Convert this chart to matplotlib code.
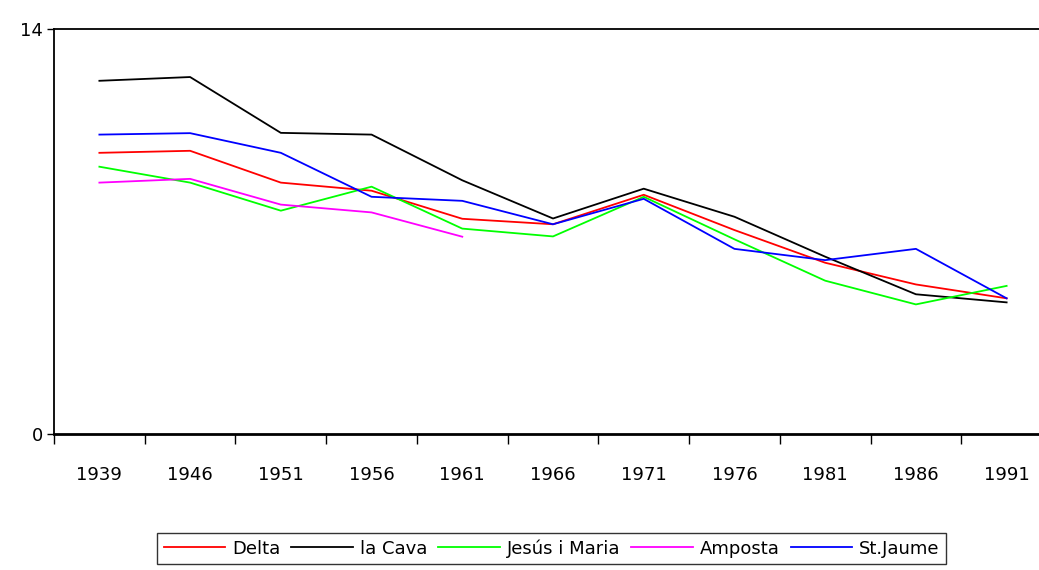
import numpy as np
import matplotlib.pyplot as plt

plt.rcParams['font.family'] = ['DejaVu Sans']

years = ['1939', '1946', '1951', '1956', '1961', '1966', '1971', '1976', '1981', '1986', '1991']

delta = [9.72, 9.79, 8.69, 8.41, 7.44, 7.25, 8.27, 7.05, 5.92, 5.17, 4.69]
la_cava = [12.21, 12.34, 10.41, 10.35, 8.77, 7.45, 8.48, 7.51, 6.13, 4.83, 4.55]
jesus_maria = [9.24, 8.69, 7.72, 8.55, 7.10, 6.83, 8.20, 6.73, 5.30, 4.48, 5.12]
amposta = [8.69, 8.82, 7.93, 7.66, 6.82]
st_jaume = [10.35, 10.40, 9.72, 8.20, 8.06, 7.25, 8.13, 6.40, 6.01, 6.40, 4.69]

fig = plt.figure(figsize=(10.39, 5.70), dpi=100)
ax = fig.add_axes([0.052, 0.2386, 0.9605, 0.7105])

x = np.arange(len(years))
ax.plot(x, delta, color='#ff0000', lw=1.3, label='Delta')
ax.plot(x, la_cava, color='black', lw=1.3, label='la Cava')
ax.plot(x, jesus_maria, color='#00ff00', lw=1.3, label='Jesús i Maria')
ax.plot(x[:len(amposta)], amposta, color='#ff00ff', lw=1.3, label='Amposta')
ax.plot(x, st_jaume, color='#0000ff', lw=1.3, label='St.Jaume')

ax.set_xlim(-0.5, len(years) - 0.5)
ax.set_ylim(0, 14)
ax.set_yticks([0, 14])
ax.tick_params(axis='y', length=5, width=1, labelsize=13, pad=3)

ax.set_xticks(x)
ax.set_xticklabels(years)
ax.set_xticks(np.arange(-0.5, len(years), 1), minor=True)
ax.tick_params(axis='x', which='major', length=0, labelsize=13, pad=23)
ax.tick_params(axis='x', which='minor', length=7, width=1)

ax.spines['right'].set_visible(False)
ax.spines['top'].set_linewidth(1.3)
ax.spines['left'].set_linewidth(1.3)
ax.spines['bottom'].set_linewidth(2)

leg = fig.legend(loc='lower center', bbox_to_anchor=(0.531, -0.005), ncol=5,
                 frameon=True, fancybox=False, fontsize=13, handlelength=3.4,
                 handletextpad=0.4, columnspacing=0.6, borderpad=0.35)
leg.get_frame().set_edgecolor('black')
leg.get_frame().set_linewidth(1)

fig.savefig('out.png', dpi=100)
